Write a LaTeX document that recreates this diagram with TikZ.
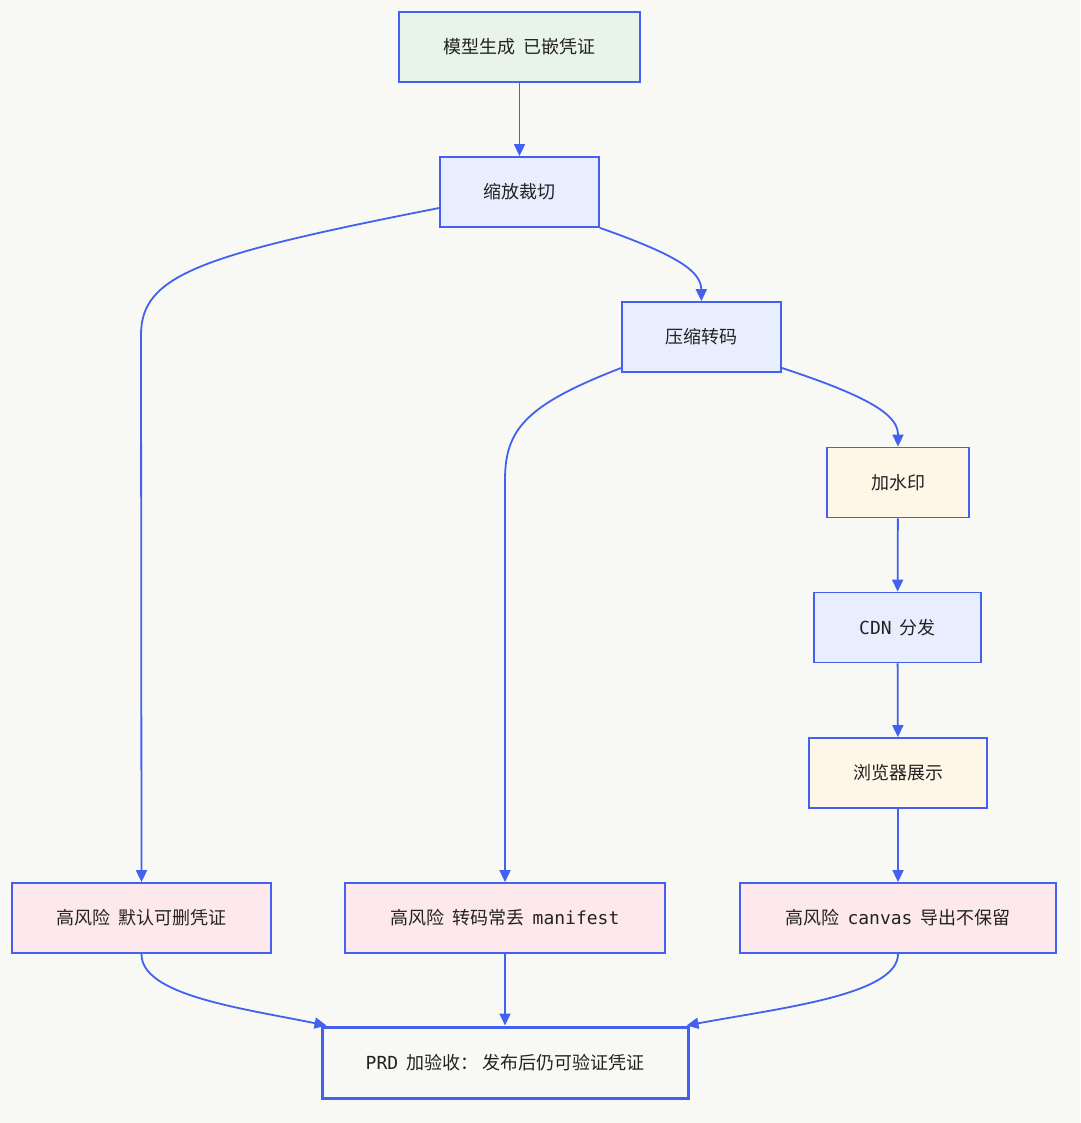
\documentclass[tikz,border=0pt]{standalone}
\usepackage{fontspec}
\setmainfont{Noto Sans CJK SC}
\setmonofont{DejaVu Sans Mono}
\usetikzlibrary{arrows.meta}
\definecolor{bgc}{HTML}{F8F8F4}
\definecolor{edgec}{HTML}{4460F0}
\definecolor{txtc}{HTML}{222222}
\definecolor{greenf}{HTML}{E8F4E8}
\definecolor{bluef}{HTML}{E8EEFE}
\definecolor{creamf}{HTML}{FEF6E6}
\definecolor{pinkf}{HTML}{FDE9EC}
\newcommand\lat[1]{{\ttfamily #1}}
\tikzset{
  box/.style={draw=edgec, line width=1.8pt, inner sep=0pt, align=center,
    text=txtc, font=\fontsize{18}{21}\selectfont, minimum height=70pt},
  gbox/.style={box, fill=greenf},
  bbox/.style={box, fill=bluef},
  cbox/.style={box, fill=creamf},
  pbox/.style={box, fill=pinkf},
  fbox/.style={box, line width=3pt, fill=bgc},
  link/.style={draw=edgec, line width=1.8pt, -{Triangle[length=12pt,width=11pt]}},
}
\begin{document}
\begin{tikzpicture}[x=1pt,y=-1pt]
\fill[bgc] (0,0) rectangle (1080,1123);
\useasboundingbox (0,0) rectangle (1080,1123);

\node[gbox, minimum width=241pt] (A) at (519.5,47) {模型生成~~已嵌凭证};
\node[bbox, minimum width=159pt] (B) at (519.5,192) {缩放裁切};
\node[bbox, minimum width=159pt] (C) at (701.5,337) {压缩转码};
\node[cbox, minimum width=142pt] (D) at (898,482.5) {加水印};
\node[bbox, minimum width=167pt] (E) at (897.5,627.5) {\lat{CDN}~~分发};
\node[cbox, minimum width=178pt] (F) at (898,773) {浏览器展示};
\node[pbox, minimum width=259pt] (G) at (141.5,918) {高风险~~默认可删凭证};
\node[pbox, minimum width=320pt] (H) at (505,918) {高风险~~转码常丢~~\lat{manifest}};
\node[pbox, minimum width=316pt] (I) at (898,918) {高风险~~\lat{canvas}~~导出不保留};
\node[fbox, minimum width=366pt, minimum height=71pt] (J) at (505,1062.5) {\lat{PRD}~~加验收：~发布后仍可验证凭证};

\coordinate (bg1) at (141,335);
\coordinate (ch1) at (505,480);

\draw[link] (A) -- (B);
\draw[link] ([yshift=-16pt]B.west) .. controls (200,255) and (141,275) .. (bg1) -- (G.north);
\draw[link] (B.south east) .. controls (680,256) and (701,272) .. (C.north);
\draw[link] ([yshift=-31pt]C.west) .. controls (525,405) and (505,430) .. (ch1) -- (H.north);
\draw[link] ([yshift=-31pt]C.east) .. controls (880,400) and (898,418) .. (D.north);
\draw[link] (D) -- (E);
\draw[link] (E) -- (F);
\draw[link] (F) -- (I);
\draw[link] (G.south) .. controls (141,995) and (240,1008) .. ([xshift=6pt]J.north west);
\draw[link] (H) -- (J);
\draw[link] (I.south) .. controls (898,995) and (780,1008) .. ([xshift=-3pt]J.north east);
\end{tikzpicture}
\end{document}
